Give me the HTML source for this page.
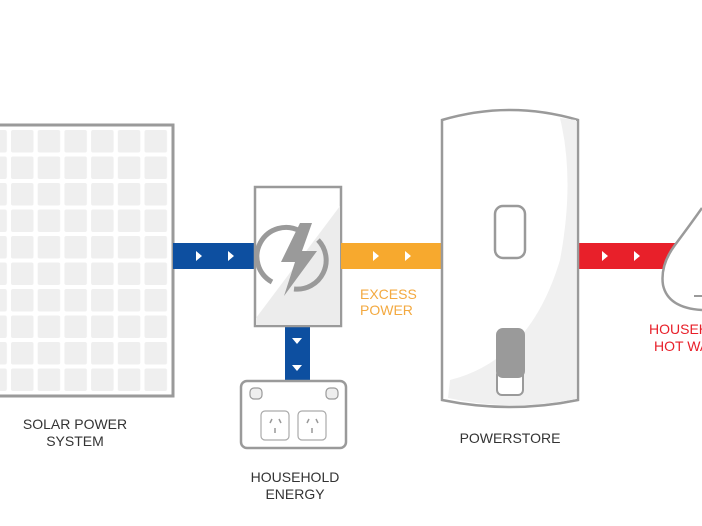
<!DOCTYPE html>
<html><head><style>
html,body{margin:0;padding:0;background:#fff;}
svg{display:block}
text{font-family:"Liberation Sans",sans-serif;}
</style></head><body>
<svg width="702" height="526" viewBox="0 0 702 526" xmlns="http://www.w3.org/2000/svg">
<defs>
<pattern id="cells" x="-15.7" y="130" width="26.7" height="26.5" patternUnits="userSpaceOnUse">
<rect x="0" y="0" width="22.5" height="22.5" rx="2" fill="#efefef"/>
</pattern>
</defs>
<!-- solar panel -->
<rect x="-3" y="125" width="176" height="271" fill="#fff" stroke="#9a9a9a" stroke-width="3"/>
<rect x="0" y="128" width="170" height="266" fill="url(#cells)"/>
<!-- blue connector -->
<rect x="173" y="243" width="82" height="26" fill="#0d4fa0"/>
<path d="M196 251l6 5-6 5z M228 251l6 5-6 5z" fill="#fff"/>
<!-- down blue -->
<rect x="285" y="326" width="25" height="55" fill="#0d4fa0"/>
<path d="M292 338h10l-5 6z M292 365h10l-5 6z" fill="#fff"/>
<!-- inverter -->
<rect x="255" y="187" width="86" height="139" fill="#fff" stroke="#9a9a9a" stroke-width="2.5"/>
<path d="M340 206 L340 325 L256 325 L256 318 Z" fill="#ececec"/>
<path d="M272 282 A29 29 0 0 1 300 231" fill="none" stroke="#9a9a9a" stroke-width="5"/>
<path d="M318 240 A29 29 0 0 1 294 289" fill="none" stroke="#9a9a9a" stroke-width="5"/>
<path d="M300 223 L281 262 L295 262 L284 296 L317 251 L302 251 L312 223 Z" fill="#9a9a9a"/>
<!-- orange -->
<rect x="341" y="243" width="101" height="26" fill="#f7a92e"/>
<path d="M373 251l6 5-6 5z M405 251l6 5-6 5z" fill="#fff"/>
<text x="360" y="299" font-size="14" fill="#f3a940">EXCESS</text>
<text x="360" y="315" font-size="14" fill="#f3a940">POWER</text>
<!-- red -->
<rect x="578" y="243" width="100" height="26" fill="#e8202a"/>
<path d="M602 251l6 5-6 5z M634 251l6 5-6 5z" fill="#fff"/>
<!-- drop -->
<path d="M702 208 Q690 225 675 245 Q660 265 663 285 Q668 308 702 310" fill="#fff" stroke="#9a9a9a" stroke-width="2.5"/>
<path d="M694 296 L702 296" stroke="#9a9a9a" stroke-width="2"/>
<text x="649" y="334" font-size="14" fill="#e8202a">HOUSEHOLD</text>
<text x="654" y="351" font-size="14" fill="#e8202a">HOT WATER</text>
<!-- powerstore -->
<path d="M442 120 Q510 100 578 120 L578 400 Q510 414 442 400 Z" fill="#fff" stroke="#9a9a9a" stroke-width="2.5"/>
<path d="M560 118 Q575 180 560 260 Q530 360 450 380 L448 398 Q510 412 576 399 L576 120 Z" fill="#f0f0f0"/>
<rect x="495" y="206" width="30" height="52" rx="8" fill="#fff" stroke="#9a9a9a" stroke-width="2.5"/>
<rect x="497" y="370" width="26" height="25" rx="5" fill="#fff" stroke="#9a9a9a" stroke-width="2"/>
<rect x="496" y="328" width="29" height="50" rx="7" fill="#9a9a9a"/>
<!-- outlet -->
<rect x="241" y="381" width="105" height="67" rx="6" fill="#fff" stroke="#9a9a9a" stroke-width="2.5"/>
<rect x="250" y="388" width="12" height="11" rx="4" fill="#eee" stroke="#9a9a9a" stroke-width="1.2"/>
<rect x="326" y="388" width="12" height="11" rx="4" fill="#eee" stroke="#9a9a9a" stroke-width="1.2"/>
<rect x="261" y="411" width="28" height="29" rx="4" fill="#fff" stroke="#aaa" stroke-width="1.2"/>
<rect x="298" y="411" width="28" height="29" rx="4" fill="#fff" stroke="#aaa" stroke-width="1.2"/>
<path d="M272 419l-2 4 M279 419l2 4 M275 428v5 M309 419l-2 4 M316 419l2 4 M312 428v5" stroke="#999" stroke-width="1.5"/>
<!-- labels -->
<text x="75" y="429" font-size="14" fill="#333" text-anchor="middle">SOLAR POWER</text>
<text x="75" y="446" font-size="14" fill="#333" text-anchor="middle">SYSTEM</text>
<text x="295" y="482" font-size="14" fill="#333" text-anchor="middle">HOUSEHOLD</text>
<text x="295" y="499" font-size="14" fill="#333" text-anchor="middle">ENERGY</text>
<text x="510" y="443" font-size="14" fill="#333" text-anchor="middle">POWERSTORE</text>
</svg>
</body></html>
